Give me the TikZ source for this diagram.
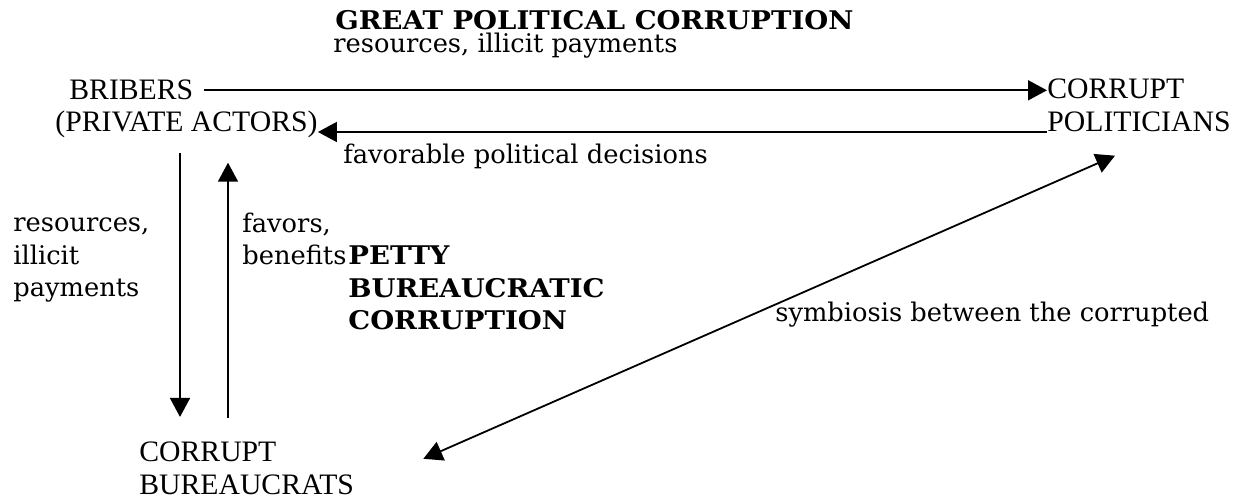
\documentclass[tikz,border=0pt]{standalone}
\usepackage{fontspec}
\usepackage{tikz}
\usetikzlibrary{arrows.meta}
\setmainfont{Liberation Serif}
\newfontfamily\labelfont{DejaVu Serif}
\newfontfamily\headfont{DejaVu Serif}[FakeStretch=1.07]

\tikzset{
  actor/.style={inner sep=0pt, align=left, font=\fontsize{14.85}{16.5}\selectfont},
  lbl/.style={inner sep=0pt, align=left, font=\labelfont\fontsize{12.85}{16.25}\selectfont},
  boldlbl/.style={lbl, font=\headfont\bfseries\fontsize{12.85}{16.25}\selectfont},
  arr/.style={-{Triangle[length=9.5pt, width=10pt]}, line width=0.9pt},
  twoarr/.style={{Triangle[length=9.5pt, width=10pt]}-{Triangle[length=9.5pt, width=10pt]}, line width=0.9pt}
}

\begin{document}
\begin{tikzpicture}[x=0.5pt, y=-0.5pt]
  \useasboundingbox (0, 0) rectangle (1239, 501);

  \node[boldlbl, anchor=base west] (great) at (335, 30) {GREAT POLITICAL CORRUPTION};
  \node[lbl, anchor=base west] (payments) at (333, 53) {resources, illicit payments};

  \node[actor, anchor=base west] (bribers) at (69, 100) {BRIBERS};
  \node[actor, anchor=base west] (actors) at (55, 132) {(PRIVATE ACTORS)};
  \node[actor, anchor=base west] (politicians) at (1047, 132) {CORRUPT\\POLITICIANS};
  \node[actor, anchor=base west] (bureaucrats) at (139, 495) {CORRUPT\\BUREAUCRATS};

  \node[lbl, anchor=base west] (decisions) at (343, 164) {favorable political decisions};
  \node[lbl, anchor=base west] (bribes) at (13, 297) {resources,\\illicit\\payments};
  \node[lbl, anchor=base west] (favors) at (242, 265) {favors,\\benefits};
  \node[boldlbl, anchor=base west] (petty) at (348, 330) {PETTY\\BUREAUCRATIC\\CORRUPTION};
  \node[lbl, anchor=base west] (symbiosis) at (775, 322) {symbiosis between the corrupted};

  \coordinate (down) at (180, 0);
  \coordinate (up) at (228, 0);

  \draw[arr, shorten <=5pt] (bribers.east) -- (bribers.east -| politicians.west);
  \draw[arr] (actors.base east -| politicians.west) -- (actors.base east);
  \draw[arr, shorten <=7pt, shorten >=12.5pt] (actors.south -| down) -- (bureaucrats.north -| down);
  \draw[arr, shorten <=12pt, shorten >=12pt] (bureaucrats.north -| up) -- (actors.south -| up);
  \draw[twoarr] ([xshift=34.5pt, yshift=5pt]bureaucrats.east)
    -- ([xshift=34pt, yshift=-11.5pt]politicians.south west);
\end{tikzpicture}
\end{document}
